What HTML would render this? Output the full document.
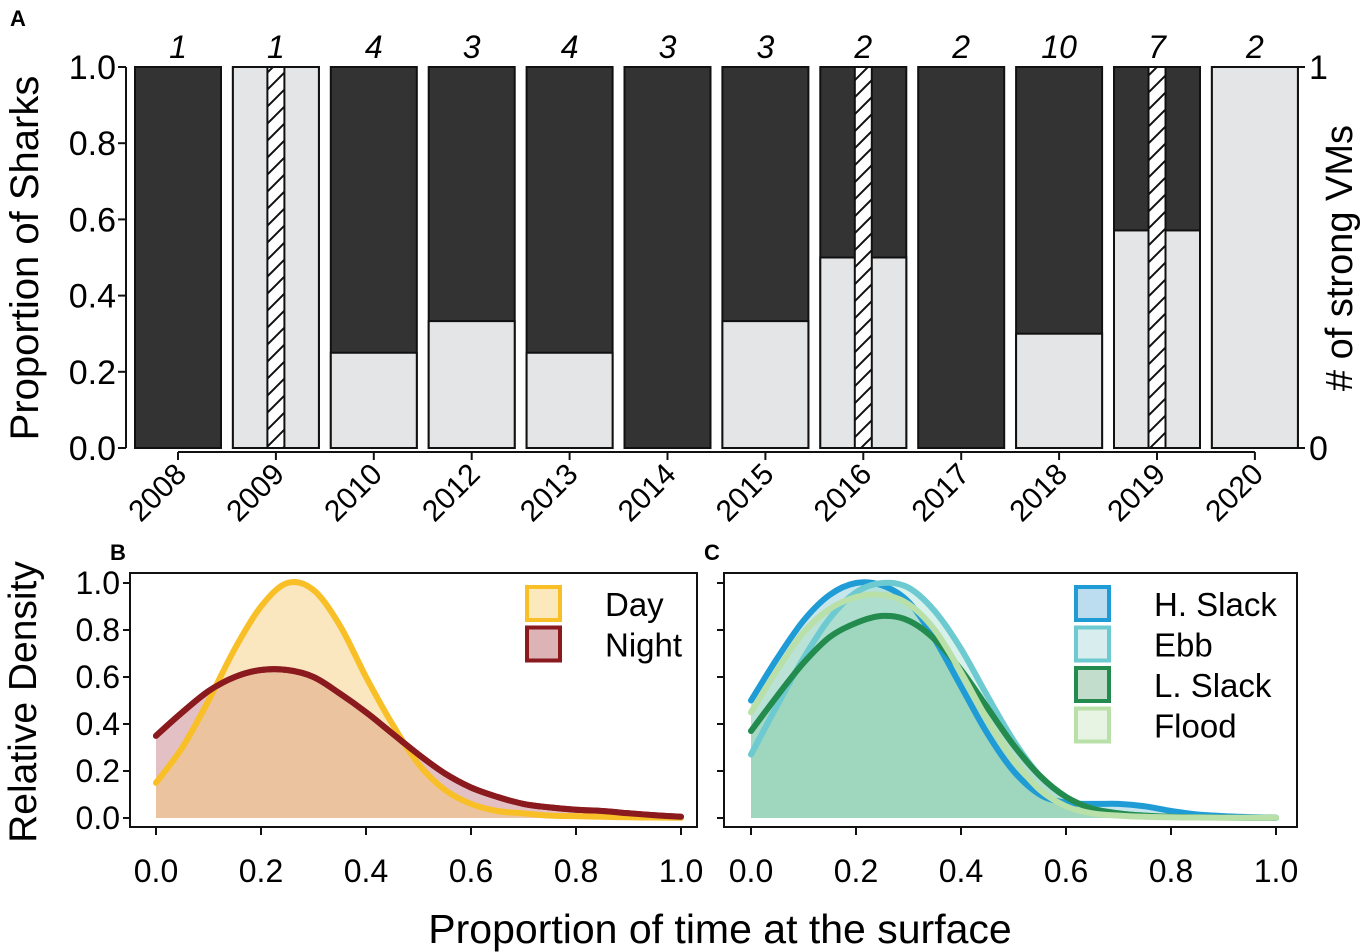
<!DOCTYPE html>
<html><head><meta charset="utf-8"><style>
html,body{margin:0;padding:0;background:#fff;}
svg{display:block;font-family:"Liberation Sans",sans-serif;}
</style></head><body>
<svg id="fig" width="1361" height="952" viewBox="0 0 1361 952">
<defs>
<pattern id="hatch" patternUnits="userSpaceOnUse" width="17" height="17">
<rect width="17" height="17" fill="#fff"/>
<path d="M0,17 L17,0 M-4,4 L4,-4 M13,21 L21,13" stroke="#111" stroke-width="2"/>
</pattern>
</defs>
<g id="pa"></g>
<g id="pb"></g>
<g id="pc"></g>
</svg>
<script>
const years = ["2008","2009","2010","2012","2013","2014","2015","2016","2017","2018","2019","2020"];
const lightProp = [0,1,0.25,0.333,0.25,0,0.333,0.5,0,0.3,0.571,1];
const strongVMs = [0,1,0,0,0,0,0,1,0,0,1,0];
const nSharks = ["1","1","4","3","4","3","3","2","2","10","7","2"];
const yTicksA = [0,0.2,0.4,0.6,0.8,1.0];

const xs = [0,0.05,0.1,0.15,0.2,0.25,0.3,0.35,0.4,0.45,0.5,0.55,0.6,0.65,0.7,0.75,0.8,0.85,0.9,0.95,1.0];
const day = [0.15,0.3,0.5,0.72,0.9,1.0,0.97,0.82,0.6,0.4,0.23,0.12,0.06,0.03,0.02,0.01,0.008,0.005,0.003,0.002,0.001];
const night = [0.35,0.45,0.54,0.6,0.63,0.63,0.6,0.53,0.45,0.36,0.27,0.19,0.13,0.09,0.06,0.045,0.035,0.03,0.02,0.012,0.005];
const hSlack = [0.5,0.68,0.84,0.95,1.0,0.99,0.92,0.76,0.56,0.36,0.2,0.1,0.065,0.06,0.06,0.05,0.03,0.015,0.008,0.004,0.001];
const ebb = [0.27,0.48,0.68,0.85,0.96,1.0,0.98,0.88,0.72,0.52,0.33,0.18,0.09,0.04,0.02,0.01,0.005,0.003,0.002,0.001,0.001];
const lSlack = [0.37,0.52,0.66,0.77,0.83,0.86,0.84,0.76,0.63,0.47,0.31,0.18,0.09,0.04,0.02,0.01,0.005,0.003,0.002,0.001,0.001];
const flood = [0.45,0.63,0.79,0.89,0.94,0.95,0.91,0.8,0.62,0.42,0.25,0.12,0.05,0.02,0.01,0.005,0.003,0.002,0.001,0.001,0.001];
const ticksD = [0,0.2,0.4,0.6,0.8,1.0];

const NS="http://www.w3.org/2000/svg";
function mk(parent,tag,attrs,text){const e=document.createElementNS(NS,tag);for(const k in attrs)e.setAttribute(k,attrs[k]);if(text!==undefined)e.textContent=text;parent.appendChild(e);return e;}

const pa=document.getElementById('pa');
const yA=v=>448-v*381;
const xA=i=>178+i*97.9;
const bw=86, hw=17;
let t=mk(pa,'text',{x:10,y:26,'font-size':22,'font-weight':'bold'},'A');

mk(pa,'line',{x1:126,y1:yA(0),x2:126,y2:yA(1),stroke:'#111','stroke-width':2});
yTicksA.forEach(v=>{
 mk(pa,'line',{x1:118,y1:yA(v),x2:126,y2:yA(v),stroke:'#111','stroke-width':2});
 const tx=mk(pa,'text',{x:116,y:yA(v)+12,'font-size':34,'text-anchor':'end'},v.toFixed(1));
 
});
t=mk(pa,'text',{transform:'translate(38,258) rotate(-90)','font-size':40,'text-anchor':'middle'},'Proportion of Sharks');

mk(pa,'line',{x1:1297,y1:yA(0),x2:1297,y2:yA(1),stroke:'#111','stroke-width':2});
[0,1].forEach(v=>{mk(pa,'line',{x1:1297,y1:yA(v),x2:1305,y2:yA(v),stroke:'#111','stroke-width':2});
 const tx=mk(pa,'text',{x:1309,y:yA(v)+12,'font-size':34},String(v));
 });
t=mk(pa,'text',{transform:'translate(1352,258) rotate(-90)','font-size':38,'text-anchor':'middle'},'# of strong VMs');

mk(pa,'line',{x1:xA(0),y1:452,x2:xA(11),y2:452,stroke:'#111','stroke-width':2});
years.forEach((y,i)=>{
 const cx=xA(i);
 const g=mk(pa,'g',{});
 
 const x0=cx-bw/2;
 mk(g,'rect',{x:x0,y:yA(1),width:bw,height:yA(0)-yA(1),fill:'#333',stroke:'#111','stroke-width':2});
 if(lightProp[i]>0) mk(g,'rect',{x:x0,y:yA(lightProp[i]),width:bw,height:yA(0)-yA(lightProp[i]),fill:'#e4e5e7',stroke:'#111','stroke-width':2});
 if(strongVMs[i]>0) mk(g,'rect',{x:cx-hw/2,y:yA(strongVMs[i]),width:hw,height:yA(0)-yA(strongVMs[i]),fill:'url(#hatch)',stroke:'#111','stroke-width':2});
 const n=mk(pa,'text',{x:cx,y:58,'font-size':32,'font-style':'italic','text-anchor':'middle'},nSharks[i]);
 
 mk(pa,'line',{x1:cx,y1:452,x2:cx,y2:460,stroke:'#111','stroke-width':2});
 const yl=mk(pa,'text',{transform:`translate(${cx+10},${476}) rotate(-45)`,'font-size':30,'text-anchor':'end'},y);
 
});

function panel(el,left,right,x0,x1,label,showY){
 const X=v=>x0+v*(x1-x0);
 const Y=v=>818-v*235;
 t=mk(el,'text',{x:left-20,y:560,'font-size':22,'font-weight':'bold'},label);
 
 mk(el,'rect',{x:left,y:573,width:right-left,height:254,fill:'none',stroke:'#111','stroke-width':2});
 ticksD.forEach(v=>{
  mk(el,'line',{x1:left-7,y1:Y(v),x2:left,y2:Y(v),stroke:'#111','stroke-width':2});
  if(showY){const tx=mk(el,'text',{x:left-10,y:Y(v)+11,'font-size':32,'text-anchor':'end'},v.toFixed(1));
   }
  mk(el,'line',{x1:X(v),y1:827,x2:X(v),y2:835,stroke:'#111','stroke-width':2});
  const tx=mk(el,'text',{x:X(v),y:882,'font-size':32,'text-anchor':'middle'},v.toFixed(1));
  
 });
 return {X,Y};
}
function smooth(pts){
 let d='M'+pts[0][0].toFixed(1)+','+pts[0][1].toFixed(1);
 for(let i=0;i<pts.length-1;i++){
  const p0=pts[Math.max(0,i-1)],p1=pts[i],p2=pts[i+1],p3=pts[Math.min(pts.length-1,i+2)];
  const c1=[p1[0]+(p2[0]-p0[0])/6,p1[1]+(p2[1]-p0[1])/6];
  const c2=[p2[0]-(p3[0]-p1[0])/6,p2[1]-(p3[1]-p1[1])/6];
  d+=`C${c1[0].toFixed(1)},${c1[1].toFixed(1)} ${c2[0].toFixed(1)},${c2[1].toFixed(1)} ${p2[0].toFixed(1)},${p2[1].toFixed(1)}`;
 }
 return d;
}
function area(el,ax,vals,fill,fop,name){
 const d=smooth(vals.map((v,i)=>[ax.X(xs[i]),ax.Y(v)]));
 const a=mk(el,'path',{d:d+`L${ax.X(1)},${ax.Y(0)}L${ax.X(0)},${ax.Y(0)}Z`,fill:fill,'fill-opacity':fop,stroke:'none'});
 
}
function line(el,ax,vals,stroke,name){
 const d=smooth(vals.map((v,i)=>[ax.X(xs[i]),ax.Y(v)]));
 const p=mk(el,'path',{d:d,fill:'none',stroke:stroke,'stroke-width':6,'stroke-linejoin':'round','stroke-linecap':'round'});
 
}
function legend(el,x,y,items){
 items.forEach((it,i)=>{
  const g=mk(el,'g',{});
  
  mk(g,'rect',{x:x,y:y+i*40.5,width:33,height:33,fill:it[2],stroke:it[1],'stroke-width':4});
  mk(g,'text',{x:x+78,y:y+i*40.5+29,'font-size':33},it[0]);
 });
}
const pb=document.getElementById('pb');
const axB=panel(pb,130,697,156,681,'B',true);
area(pb,axB,night,'#b04a55',0.35,'night');
area(pb,axB,day,'#f5c872',0.45,'day');
line(pb,axB,night,'#8a1a1e','night');
line(pb,axB,day,'#f8bf27','day');
line(pb,axB,night.map((v,i)=>v),'#8a1a1e','night-top');
legend(pb,527,587,[['Day','#f8bf27','#fbe8bd'],['Night','#8a1a1e','#dcb4b6']]);
t=mk(pb,'text',{transform:'translate(36,702) rotate(-90)','font-size':39,'text-anchor':'middle'},'Relative Density');


const pc=document.getElementById('pc');
const axC=panel(pc,724,1297,751,1276,'C',false);
area(pc,axC,hSlack,'#5fb6c8',0.35,'h-slack');
area(pc,axC,ebb,'#8fd6c6',0.35,'ebb');
area(pc,axC,lSlack,'#6dbd98',0.35,'l-slack');
area(pc,axC,flood,'#a6dab3',0.35,'flood');
line(pc,axC,hSlack,'#1f9bd6','h-slack');
line(pc,axC,ebb,'#6ccad0','ebb');
line(pc,axC,lSlack,'#238b4e','l-slack');
line(pc,axC,flood,'#b9e0a9','flood');
legend(pc,1076,587,[['H. Slack','#1f9bd6','#bcdcef'],['Ebb','#6ccad0','#d8eeee'],['L. Slack','#238b4e','#c2ddcc'],['Flood','#b9e0a9','#e8f4e3']]);

t=mk(document.getElementById('fig'),'text',{x:720,y:943,'font-size':41,'text-anchor':'middle'},'Proportion of time at the surface');

</script>
</body></html>
